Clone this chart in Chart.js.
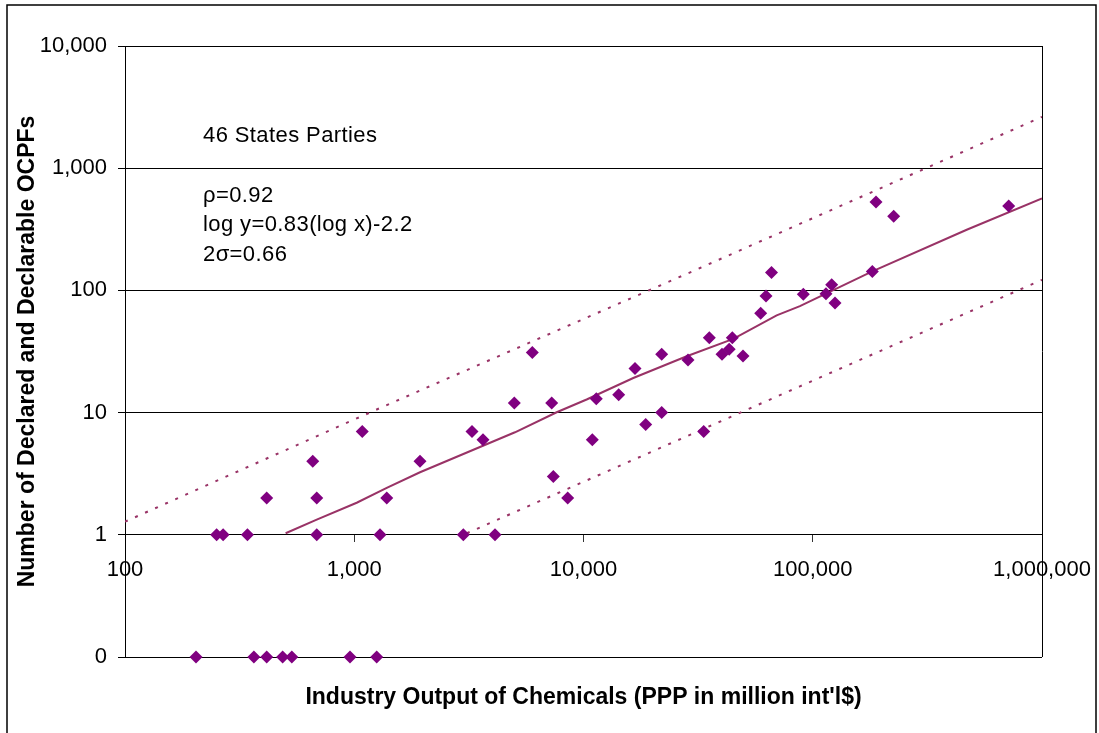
<!DOCTYPE html>
<html>
<head>
<meta charset="utf-8">
<script src="https://cdn.jsdelivr.net/npm/chart.js@4/dist/chart.umd.min.js"></script>
<style>
html,body{margin:0;padding:0;background:#fff;}
#wrap{width:1099px;height:733px;position:relative;}
canvas{display:block;}
</style>
</head>
<body>
<div id="wrap"><canvas id="c" width="1099" height="733"></canvas></div>
<script>
// ---------- data ----------
const xTickValues = [100, 1000, 10000, 100000, 1000000];
const yTickValues = [0.1, 1, 10, 100, 1000, 10000];   // 0.1 is the row labelled "0"

// States Parties with at least one declared / declarable OCPF
const countX = [251, 268, 342, 415, 659, 686, 686, 1084, 1295, 1386, 1936, 2990, 3263, 3644, 4111,
                4990, 5981, 7265, 7384, 8532, 10925, 11370, 14240, 16770, 18680, 21930, 21930, 28570,
                33440, 35390, 40200, 43210, 44590, 49640, 59290, 62520, 66070, 90950, 114200, 120950,
                125050, 181900, 188800, 225500, 715800];
const countY = [1, 1, 1, 2, 4, 2, 1, 7, 1, 2, 4, 1, 7, 6, 1,
                12, 31, 12, 3, 2, 6, 13, 14, 23, 8, 30, 10, 27,
                7, 41, 30, 33, 41, 29, 65, 90, 140, 93, 94, 111,
                79, 143, 528, 405, 490];

// States Parties with zero OCPFs (drawn on the "0" row of the log axis)
const zeroCountX = [204, 365, 415, 487, 534, 958, 1253];
const ZERO_ROW = 0.1;

// regression line and 2-sigma band, vertices
const fitX = [502, 686, 1025, 1386, 1936, 5025, 7640, 10320, 16490, 28200, 45030, 69600, 87900, 181900, 469500, 1000000];
const fitY = [1.03, 1.33, 1.83, 2.42, 3.25, 6.9, 10.06, 12.8, 19.2, 28.9, 40.1, 62.5, 74.3, 143, 313.6, 565];
const upperX = [100, 1253, 32230, 1000000];
const upperY = [1.28, 10.6, 152.4, 2630];
const lowerX = [3100, 87900, 1000000];
const lowerY = [1.03, 16.4, 122];

const noteLines = ['46 States Parties', 'ρ=0.92', 'log y=0.83(log x)-2.2', '2σ=0.66'];

// ---------- styling ----------
const FONT = "'Liberation Sans', Arial, Helvetica, sans-serif";
const MARKER = '#800080';
const LINE = '#993366';

const fmt = v => (v === 0.1 ? '0' : Number(v).toLocaleString('en-US'));
const pts = (xs, ys) => xs.map((x, i) => ({x: x, y: ys[i]}));

const framePlugin = {
  id: 'frame',
  afterDraw(chart) {
    const {ctx, chartArea: a} = chart;
    ctx.save();
    // plot area right edge
    ctx.strokeStyle = '#000';
    ctx.lineWidth = 1;
    ctx.beginPath();
    ctx.moveTo(Math.round(a.right) + 0.5, a.top);
    ctx.lineTo(Math.round(a.right) + 0.5, a.bottom);
    ctx.stroke();
    // outer chart frame
    ctx.lineWidth = 1.5;
    ctx.beginPath();
    ctx.moveTo(7, 745); ctx.lineTo(7, 5); ctx.lineTo(1096, 5); ctx.lineTo(1096, 745);
    ctx.stroke();
    // text note
    ctx.fillStyle = '#000';
    ctx.font = '22px ' + FONT;
    try { ctx.letterSpacing = '0.4px'; } catch (e) {}
    ctx.textAlign = 'left';
    ctx.textBaseline = 'alphabetic';
    const left = a.left + 78;
    const baselines = [a.top + 96, a.top + 156, a.top + 185, a.top + 215];
    noteLines.forEach((t, i) => ctx.fillText(t, left, baselines[i]));
    ctx.restore();
  }
};

new Chart(document.getElementById('c'), {
  data: {
    datasets: [
      {
        type: 'scatter', label: 'OCPFs', data: pts(countX, countY),
        pointStyle: 'rectRot', pointRadius: 6.5, pointHoverRadius: 6.5,
        backgroundColor: MARKER, borderColor: MARKER, borderWidth: 0, clip: false
      },
      {
        type: 'scatter', label: 'zero OCPFs', data: zeroCountX.map(x => ({x: x, y: ZERO_ROW})),
        pointStyle: 'rectRot', pointRadius: 6.5, pointHoverRadius: 6.5,
        backgroundColor: MARKER, borderColor: MARKER, borderWidth: 0, clip: false
      },
      {
        type: 'line', label: 'fit', data: pts(fitX, fitY),
        borderColor: LINE, borderWidth: 2, pointRadius: 0, fill: false, tension: 0
      },
      {
        type: 'line', label: 'upper', data: pts(upperX, upperY),
        borderColor: LINE, borderWidth: 2, borderDash: [3, 8], pointRadius: 0, fill: false, tension: 0
      },
      {
        type: 'line', label: 'lower', data: pts(lowerX, lowerY),
        borderColor: LINE, borderWidth: 2, borderDash: [3, 8], pointRadius: 0, fill: false, tension: 0
      }
    ]
  },
  options: {
    responsive: false,
    animation: false,
    devicePixelRatio: 1,
    layout: { padding: { top: 46, right: 57, bottom: 0, left: 0 } },
    plugins: { legend: { display: false }, tooltip: { enabled: false }, title: { display: false } },
    scales: {
      x: {
        type: 'logarithmic', axis: 'x', position: { y: 1 },
        min: 100, max: 1000000,
        afterBuildTicks: s => { s.ticks = xTickValues.map(v => ({value: v})); },
        afterFit: s => { s.height = 0; s.paddingLeft = 0; s.paddingRight = 0; },
        ticks: { callback: v => fmt(v), font: { family: FONT, size: 22 }, color: '#000',
                 padding: 14.5, maxRotation: 0, minRotation: 0, autoSkip: false },
        grid: { drawOnChartArea: false, drawTicks: true, tickLength: 7, color: '#333', lineWidth: 1 },
        border: { display: false }
      },
      xTitle: {
        type: 'logarithmic', axis: 'x', position: 'bottom',
        min: 100, max: 1000000,
        afterFit: s => { s.height = 76; s.paddingLeft = 0; s.paddingRight = 0; },
        ticks: { display: false },
        grid: { display: false, drawTicks: false },
        border: { display: false },
        title: { display: true, text: "Industry Output of Chemicals (PPP in million int'l$)",
                 font: { family: FONT, size: 23, weight: 'bold' }, color: '#000',
                 padding: { top: 0, bottom: 22 } }
      },
      y: {
        type: 'logarithmic', position: 'left',
        min: 0.1, max: 10000,
        afterBuildTicks: s => { s.ticks = yTickValues.map(v => ({value: v})); },
        afterFit: s => { s.width = 125; },
        ticks: { callback: v => fmt(v), font: { family: FONT, size: 22 }, color: '#000', padding: 11, autoSkip: false },
        grid: { color: '#000', lineWidth: 1, drawTicks: true, tickLength: 7 },
        border: { display: true, color: '#000', width: 1 },
        title: { display: true, text: 'Number of Declared and Declarable OCPFs',
                 font: { family: FONT, size: 23, weight: 'bold' }, color: '#000',
                 padding: { top: 14, bottom: 0 } }
      }
    }
  },
  plugins: [framePlugin]
});
</script>
</body>
</html>
